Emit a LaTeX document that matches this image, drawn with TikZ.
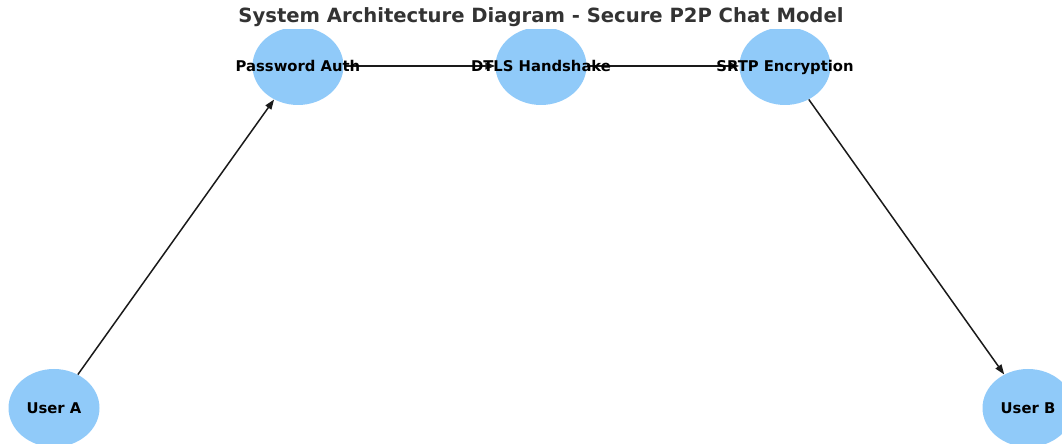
\documentclass[tikz,border=0pt]{standalone}
\usepackage{fontspec}
\setmainfont{DejaVu Sans}
\usetikzlibrary{shapes.geometric,arrows.meta}
\definecolor{nodeblue}{HTML}{90CAF9}
\definecolor{titlegray}{HTML}{333333}
\definecolor{edgeink}{HTML}{1A1A1A}
\tikzset{
  peer/.style={ellipse, fill=nodeblue, draw=none, inner sep=0pt,
    minimum width=91pt, minimum height=78pt},
  peerlabel/.style={font=\bfseries\fontsize{14.8}{16}\selectfont, text=black, inner sep=0pt,
    text height=10.8pt, text depth=0pt},
  flow/.style={draw=edgeink, line width=1.5pt, -{Triangle[length=10pt,width=7pt]}},
}
\begin{document}
\begin{tikzpicture}[x=1pt,y=1pt]
  \useasboundingbox (0,0) rectangle (1062,444);
  % plotting area, clipped below the title
  \begin{scope}
    \clip (0,0) rectangle (1062,414);
    \node[peer] (ua) at (54,36) {};
    \node[peer] (pa) at (298,378) {};
    \node[peer] (dt) at (541,378) {};
    \node[peer] (sr) at (785,378) {};
    \node[peer] (ub) at (1028,36) {};
    \draw[flow] (ua) -- (pa);
    \draw[flow] (pa) -- (dt);
    \draw[flow] (dt) -- (sr);
    \draw[flow] (sr) -- (ub);
    \node[peerlabel] (lua) at (ua) {User A};
    \node[peerlabel] (lpa) at (pa) {Password Auth};
    \node[peerlabel] (ldt) at (dt) {DTLS Handshake};
    \node[peerlabel] (lsr) at (sr) {SRTP Encryption};
    \node[peerlabel] (lub) at (ub) {User B};
  \end{scope}
  \node[font=\bfseries\fontsize{19.6}{22}\selectfont, text=titlegray, inner sep=0pt, anchor=base] (title) at (541,421.3)
    {System Architecture Diagram - Secure P2P Chat Model};
\end{tikzpicture}
\end{document}
